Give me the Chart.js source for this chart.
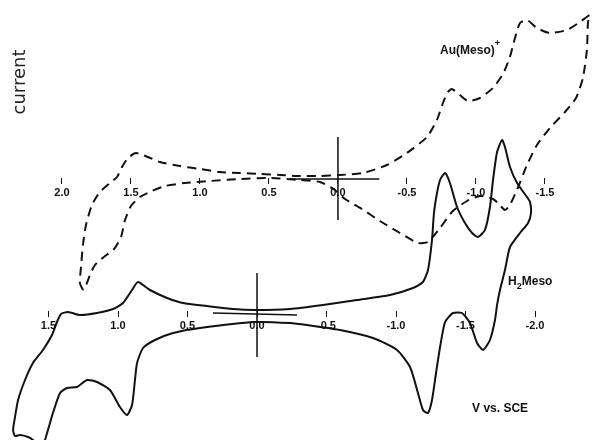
<!DOCTYPE html>
<html>
<head>
<meta charset="utf-8">
<script src="https://cdn.jsdelivr.net/npm/chart.js@4.4.1/dist/chart.umd.min.js"></script>
<style>
  html, body { margin: 0; padding: 0; background: #fff; }
</style>
</head>
<body>
<canvas id="cv" width="592" height="440"></canvas>
<script>
// Au(Meso)+ voltammogram (dashed), E in V vs SCE, current in arbitrary units
const auV = [1.848, 1.870, 1.862, 1.848, 1.826, 1.783, 1.725, 1.652, 1.601, 1.565, 1.522, 1.464, 1.377, 1.290, 1.145, 1.000,
  0.855, 0.710, 0.565, 0.420, 0.275, 0.130, -0.014, -0.181, -0.355, -0.500, -0.645, -0.717, -0.761, -0.797, -0.826, -0.884,
  -0.942, -1.029, -1.123, -1.196, -1.246, -1.283, -1.319, -1.370, -1.442, -1.536, -1.659, -1.754, -1.826, -1.812, -1.804,
  -1.775, -1.725, -1.645, -1.536, -1.442, -1.370, -1.297, -1.246, -1.210, -1.159, -1.123, -1.029, -0.935, -0.833, -0.739,
  -0.652, -0.580, -0.449, -0.304, -0.174, -0.051, 0.022, 0.130, 0.275, 0.493, 0.710, 0.928, 1.109, 1.254, 1.348, 1.435,
  1.500, 1.543, 1.572, 1.623, 1.696, 1.761, 1.797, 1.833, 1.848];
const auI = [-108, -101, -85, -63, -43, -23, -10, -1, 5, 15, 24, 29, 25, 20, 16, 13,
  10, 9, 8, 7, 6, 6, 7, 9, 17, 29, 45, 62, 79, 90, 93, 87,
  81, 84, 94, 108, 125, 144, 159, 162, 154, 149, 152, 160, 167, 160, 132,
  104, 84, 70, 54, 37, 17, -8, -23, -28, -21, -17, -14, -19, -29, -46,
  -60, -61, -51, -39, -27, -17, -8, 0, 2, 4, 3, 1, -1, -4, -9, -15,
  -24, -38, -55, -67, -75, -83, -93, -106, -108];

// H2Meso voltammogram (solid)
const h2V = [1.561, 1.612, 1.647, 1.705, 1.741, 1.755, 1.741, 1.719, 1.669, 1.612, 1.540, 1.475, 1.439, 1.410, 1.360, 1.273,
  1.151, 1.036, 0.964, 0.899, 0.856, 0.770, 0.647, 0.532, 0.360, 0.173, 0.014, -0.237, -0.475, -0.719, -0.957, -1.122,
  -1.194, -1.230, -1.259, -1.273, -1.295, -1.317, -1.353, -1.388, -1.439, -1.496, -1.547, -1.590, -1.640, -1.676, -1.698,
  -1.727, -1.763, -1.784, -1.820, -1.871, -1.942, -1.964, -1.971, -1.950, -1.892, -1.820, -1.784, -1.748, -1.727, -1.712,
  -1.676, -1.626, -1.583, -1.532, -1.475, -1.410, -1.353, -1.317, -1.288, -1.259, -1.230, -1.194, -1.158, -1.101, -1.007,
  -0.835, -0.597, -0.360, -0.237, 0.014, 0.410, 0.604, 0.734, 0.820, 0.863, 0.878, 0.899, 0.935, 0.986, 1.058, 1.151,
  1.223, 1.295, 1.367, 1.417, 1.468, 1.525, 1.547, 1.561];
const h2I = [-134, -127, -124, -122, -123, -117, -104, -87, -67, -50, -37, -22, -9, -1, 1, -2,
  0, 4, 10, 23, 31, 23, 15, 10, 7, 4, 3, 4, 8, 13, 18, 25,
  31, 43, 73, 100, 120, 133, 140, 130, 106, 90, 80, 76, 83, 106, 133,
  161, 173, 166, 146, 130, 116, 111, 100, 90, 80, 66, 43, 23, 8, -7,
  -27, -37, -30, -10, 0, 0, -9, -34, -60, -87, -100, -97, -80, -54, -37,
  -25, -17, -12, -10, -9, -15, -20, -27, -35, -50, -67, -92, -102, -94, -77, -69,
  -67, -74, -75, -80, -100, -127, -134, -134];

// zero-current / zero-volt crosshairs
const topCrossV = [0, 0], topCrossI = [45, -38];
const topZeroV = [0.35, -0.30], topZeroI = [3, 3];
const botCrossV = [0, 0], botCrossI = [40, -44];
const botZeroV = [0.317, -0.288], botZeroI = [0, -2];

const topTicks = [2.0, 1.5, 1.0, 0.5, 0.0, -0.5, -1.0, -1.5];
const botTicks = [1.5, 1.0, 0.5, 0.0, -0.5, -1.0, -1.5, -2.0];

// label anchors (V, current)
const auNote = [-0.74, 128];
const h2Note = [-1.806, 28];
const sceNote = [-1.547, -99];

const ink = '#111';
const pts = (xs, ys) => xs.map((x, i) => ({ x, y: ys[i] }));

function curve(data, top, extra) {
  return Object.assign({
    data,
    xAxisID: top ? 'xTop' : 'xBot',
    yAxisID: top ? 'yTop' : 'yBot',
    showLine: true,
    borderColor: ink,
    borderWidth: 2,
    pointRadius: 0,
    tension: 0.2,
    fill: false
  }, extra || {});
}

const tickFont = { family: '"Liberation Sans", Arial, sans-serif', size: 11, weight: 'bold' };

function xAxis(min, max, ticks, posAxis, posVal) {
  return {
    type: 'linear',
    reverse: true,
    min, max,
    position: { [posAxis]: posVal },
    afterBuildTicks: s => { s.ticks = ticks.map(v => ({ value: v })); },
    border: { display: false },
    grid: { drawOnChartArea: false, drawTicks: true, tickLength: 6, color: ink, lineWidth: 1 },
    ticks: { color: ink, font: tickFont, padding: 2, maxRotation: 0, callback: v => Number(v).toFixed(1) }
  };
}

const labels = {
  id: 'labels',
  afterDatasetsDraw(chart) {
    const { ctx, scales, chartArea } = chart;
    ctx.save();
    ctx.fillStyle = ink;
    ctx.textBaseline = 'alphabetic';
    ctx.textAlign = 'left';
    const big = 'bold 12px "Liberation Sans", Arial, sans-serif';
    const small = 'bold 9px "Liberation Sans", Arial, sans-serif';

    let x = scales.xTop.getPixelForValue(auNote[0]);
    let y = scales.yTop.getPixelForValue(auNote[1]);
    ctx.font = big;
    ctx.fillText('Au(Meso)', x, y);
    x += ctx.measureText('Au(Meso)').width;
    ctx.font = small;
    ctx.fillText('+', x, y - 8);

    x = scales.xBot.getPixelForValue(h2Note[0]);
    y = scales.yBot.getPixelForValue(h2Note[1]);
    ctx.font = big;
    ctx.fillText('H', x, y);
    x += ctx.measureText('H').width;
    ctx.font = small;
    ctx.fillText('2', x, y + 4);
    x += ctx.measureText('2').width;
    ctx.font = big;
    ctx.fillText('Meso', x, y);

    ctx.fillText('V vs. SCE', scales.xBot.getPixelForValue(sceNote[0]), scales.yBot.getPixelForValue(sceNote[1]));

    ctx.translate(chartArea.left + 25, chartArea.top + 82);
    ctx.rotate(-Math.PI / 2);
    ctx.textAlign = 'center';
    ctx.fillStyle = '#222';
    ctx.font = '18px "DejaVu Sans", sans-serif';
    ctx.fillText('current', 0, 0);
    ctx.restore();
  }
};

new Chart(document.getElementById('cv'), {
  type: 'scatter',
  data: {
    datasets: [
      curve(pts(auV, auI), true, { borderDash: [9, 6] }),
      curve(pts(h2V, h2I), false),
      curve(pts(topCrossV, topCrossI), true, { borderWidth: 1.5, tension: 0 }),
      curve(pts(topZeroV, topZeroI), true, { borderWidth: 1.5, tension: 0 }),
      curve(pts(botCrossV, botCrossI), false, { borderWidth: 1.5, tension: 0 }),
      curve(pts(botZeroV, botZeroI), false, { borderWidth: 1.5, tension: 0 })
    ]
  },
  options: {
    responsive: false,
    animation: false,
    devicePixelRatio: 1,
    layout: { padding: 0 },
    plugins: { legend: { display: false }, tooltip: { enabled: false } },
    events: [],
    scales: {
      yTop: { type: 'linear', display: false, min: -258, max: 182 },
      yBot: { type: 'linear', display: false, min: -127, max: 313 },
      xTop: xAxis(-1.841, 2.449, topTicks, 'yTop', 4),
      xBot: xAxis(-2.410, 1.849, botTicks, 'yBot', 2)
    }
  },
  plugins: [labels]
});
</script>
</body>
</html>
